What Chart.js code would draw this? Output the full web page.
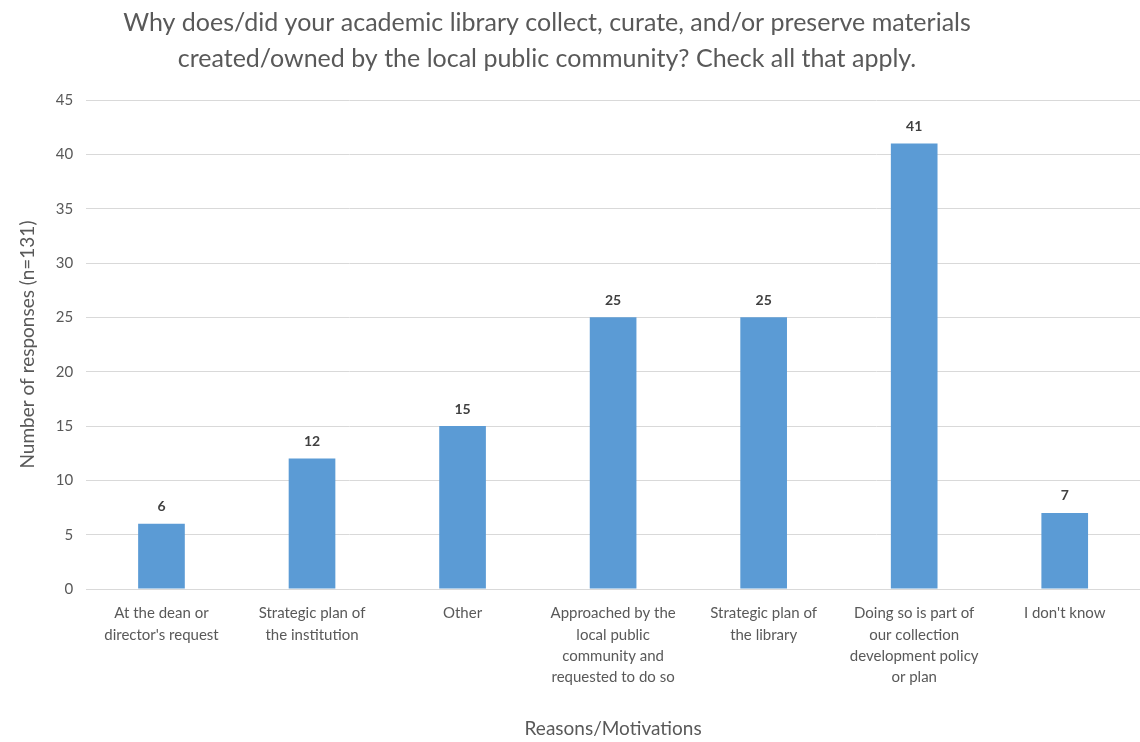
<!DOCTYPE html>
<html>
<head>
<meta charset="utf-8">
<script src="https://cdn.jsdelivr.net/npm/chart.js@4/dist/chart.umd.min.js"></script>
<style>
  html, body { margin: 0; padding: 0; background: #fff; }
  #wrap { width: 1140px; height: 742px; }
</style>
</head>
<body>
<div id="wrap"><canvas id="reasonsChart"></canvas></div>
<script>
const categories = [
  ['At the dean or', "director's request"],
  ['Strategic plan of', 'the institution'],
  ['Other'],
  ['Approached by the', 'local public', 'community and', 'requested to do so'],
  ['Strategic plan of', 'the library'],
  ['Doing so is part of', 'our collection', 'development policy', 'or plan'],
  ["I don't know"],
];
const responses = [6, 12, 15, 25, 25, 41, 7];
const yTicks = [0, 5, 10, 15, 20, 25, 30, 35, 40, 45];
const titleLines = [
  'Why does/did your academic library collect, curate, and/or preserve materials',
  'created/owned by the local public community? Check all that apply.',
];

const textGrey = '#595959';
const fontFamily = 'Lato, "Open Sans", sans-serif';

// the title sits a little left of the canvas centre, like the original
const offsetTitle = {
  id: 'offsetTitle',
  afterDraw(chart) {
    const { ctx } = chart;
    ctx.save();
    ctx.font = `25px ${fontFamily}`;
    ctx.fillStyle = textGrey;
    ctx.textAlign = 'center';
    ctx.textBaseline = 'middle';
    titleLines.forEach((line, i) => {
      ctx.fillText(line, 547, 23 + i * 36);
    });
    ctx.restore();
  },
};

// draws the value above each bar
const barValueLabels = {
  id: 'barValueLabels',
  afterDatasetsDraw(chart) {
    const { ctx } = chart;
    const meta = chart.getDatasetMeta(0);
    ctx.save();
    ctx.font = `bold 14px ${fontFamily}`;
    ctx.fillStyle = '#404040';
    ctx.textAlign = 'center';
    ctx.textBaseline = 'bottom';
    meta.data.forEach((bar, i) => {
      ctx.fillText(String(responses[i]), bar.x, bar.y - 10);
    });
    ctx.restore();
  },
};

function reasonsChart() {
  const config = {
    type: 'bar',
    data: {
      labels: categories,
      datasets: [{
        data: responses,
        backgroundColor: '#5B9BD5',
        barPercentage: 0.62,
        categoryPercentage: 0.5,
      }],
    },
    options: {
      responsive: true,
      maintainAspectRatio: false,
      animation: false,
      layout: { padding: { left: 16, right: 0, top: 100, bottom: 2 } },
      plugins: {
        legend: { display: false },
        tooltip: { enabled: false },
        title: { display: false },
      },
      scales: {
        x: {
          grid: { display: false },
          border: { color: '#D9D9D9', width: 1 },
          ticks: {
            color: textGrey,
            font: { family: fontFamily, size: 15, lineHeight: 1.42 },
            maxRotation: 0,
            autoSkip: false,
            padding: 6,
          },
          title: {
            display: true,
            text: 'Reasons/Motivations',
            color: textGrey,
            font: { family: fontFamily, size: 19 },
            padding: { top: 23, bottom: 0 },
          },
        },
        y: {
          min: 0,
          max: yTicks[yTicks.length - 1],
          afterBuildTicks: (axis) => { axis.ticks = yTicks.map((v) => ({ value: v })); },
          grid: { color: '#D9D9D9', drawTicks: false },
          border: { display: false },
          ticks: {
            color: textGrey,
            font: { family: fontFamily, size: 15 },
            padding: 13,
          },
          title: {
            display: true,
            text: 'Number of responses (n=131)',
            color: textGrey,
            font: { family: fontFamily, size: 19 },
            padding: { top: 0, bottom: 4 },
          },
        },
      },
    },
    plugins: [barValueLabels, offsetTitle],
  };
  return new Chart(document.getElementById('reasonsChart'), config);
}

document.addEventListener('DOMContentLoaded', reasonsChart);
</script>
</body>
</html>
